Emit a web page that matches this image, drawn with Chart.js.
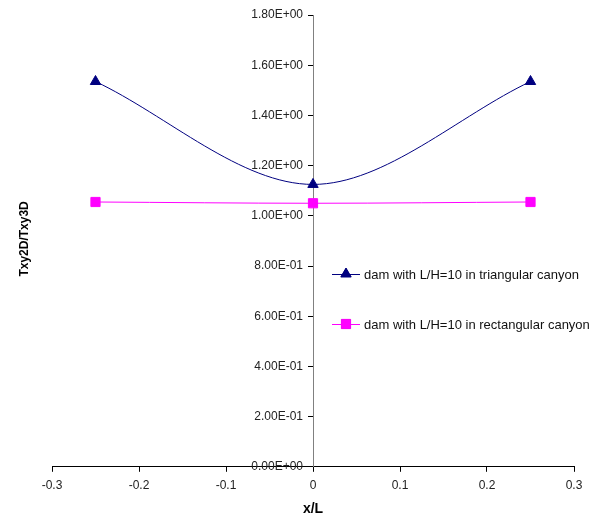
<!DOCTYPE html>
<html lang="en">
<head>
  <meta charset="UTF-8" />
  <title>Txy2D/Txy3D</title>
  <script src="https://cdn.jsdelivr.net/npm/chart.js"></script>
  <style>
    html, body { margin: 0; padding: 0; background: #fff; }
    #wrap { width: 606px; height: 518px; position: relative; }
  </style>
</head>
<body>
  <div id="wrap">
    <canvas id="chart"></canvas>
  </div>

  <script>
    // data
    const xValues = [-0.25, 0, 0.25];
    const triangularCanyon = [1.535, 1.125, 1.535];
    const rectangularCanyon = [1.055, 1.05, 1.055];
    const seriesLabels = [
      'dam with L/H=10 in triangular canyon',
      'dam with L/H=10 in rectangular canyon'
    ];
    const xTitle = 'x/L';
    const yTitle = 'Txy2D/Txy3D';

    const FONT = '"Liberation Sans", Arial, sans-serif';

    function sci(v) {
      const parts = Number(v).toExponential(2).split('e');
      let exp = parseInt(parts[1], 10);
      const sign = exp < 0 ? '-' : '+';
      exp = Math.abs(exp);
      return parts[0] + 'E' + sign + (exp < 10 ? '0' + exp : exp);
    }

    const toPoints = ys => xValues.map((x, i) => ({ x, y: ys[i] }));

    // y tick labels, y title and legend, placed like the original
    const extras = {
      id: 'extras',
      afterDraw(chart) {
        const ctx = chart.ctx;
        const area = chart.chartArea;
        const ys = chart.scales.y;
        const axisX = chart.scales.x.getPixelForValue(0);
        ctx.save();

        ctx.font = '12px ' + FONT;
        ctx.fillStyle = '#222';
        ctx.textAlign = 'right';
        ctx.textBaseline = 'middle';
        ys.ticks.forEach(t => {
          ctx.fillText(sci(t.value), axisX - 10, ys.getPixelForValue(t.value));
        });

        ctx.font = 'bold 12px ' + FONT;
        ctx.fillStyle = '#000';
        ctx.textAlign = 'center';
        ctx.translate(25, (area.top + area.bottom) / 2 - 2);
        ctx.rotate(-Math.PI / 2);
        ctx.fillText(yTitle, 0, 0);
        ctx.setTransform(1, 0, 0, 1, 0, 0);

        const rows = [274, 324];
        chart.data.datasets.forEach((ds, i) => {
          const y = rows[i];
          ctx.strokeStyle = ds.borderColor;
          ctx.lineWidth = 1;
          ctx.beginPath();
          ctx.moveTo(332, y + 0.5);
          ctx.lineTo(360, y + 0.5);
          ctx.stroke();
          Chart.helpers.drawPoint(ctx, {
            pointStyle: ds.pointStyle,
            radius: ds.pointRadius,
            borderWidth: 1
          }, 346, y);
          ctx.fillStyle = ds.backgroundColor;
          ctx.fill();
          ctx.font = '13px ' + FONT;
          ctx.fillStyle = '#111';
          ctx.textAlign = 'left';
          ctx.textBaseline = 'middle';
          ctx.fillText(ds.label, 364, y + 1);
        });
        ctx.restore();
      }
    };

    new Chart(document.getElementById('chart'), {
      type: 'scatter',
      data: {
        datasets: [
          {
            label: seriesLabels[0],
            data: toPoints(triangularCanyon),
            showLine: true,
            tension: 0.33,
            borderColor: '#000080',
            backgroundColor: '#000080',
            borderWidth: 1,
            pointStyle: 'triangle',
            pointRadius: 6,
            pointBorderWidth: 1
          },
          {
            label: seriesLabels[1],
            data: toPoints(rectangularCanyon),
            showLine: true,
            tension: 0.33,
            borderColor: '#FF00FF',
            backgroundColor: '#FF00FF',
            borderWidth: 1,
            pointStyle: 'rect',
            pointRadius: 6.5,
            pointBorderWidth: 1
          }
        ]
      },
      options: {
        responsive: true,
        maintainAspectRatio: false,
        animation: false,
        layout: { padding: { left: 52, right: 32, top: 15, bottom: 0 } },
        plugins: {
          legend: { display: false },
          tooltip: { enabled: false }
        },
        scales: {
          x: {
            type: 'linear',
            position: 'bottom',
            min: -0.3,
            max: 0.3,
            grid: { drawOnChartArea: false, tickLength: 5, color: '#000' },
            border: { color: '#000', width: 1 },
            ticks: {
              stepSize: 0.1,
              padding: 7,
              color: '#222',
              font: { family: FONT, size: 12 },
              callback: v => String(Math.round(v * 10) / 10)
            },
            title: {
              display: true,
              text: xTitle,
              color: '#000',
              font: { family: FONT, size: 14, weight: 'bold' },
              padding: { top: 1, bottom: 0 }
            }
          },
          y: {
            type: 'linear',
            position: { x: 0 },
            min: 0,
            max: 1.8,
            grid: { drawOnChartArea: false, tickLength: 5, color: '#000' },
            border: { color: '#808080', width: 1 },
            ticks: {
              stepSize: 0.2,
              display: false
            }
          }
        }
      },
      plugins: [extras]
    });
  </script>
</body>
</html>
